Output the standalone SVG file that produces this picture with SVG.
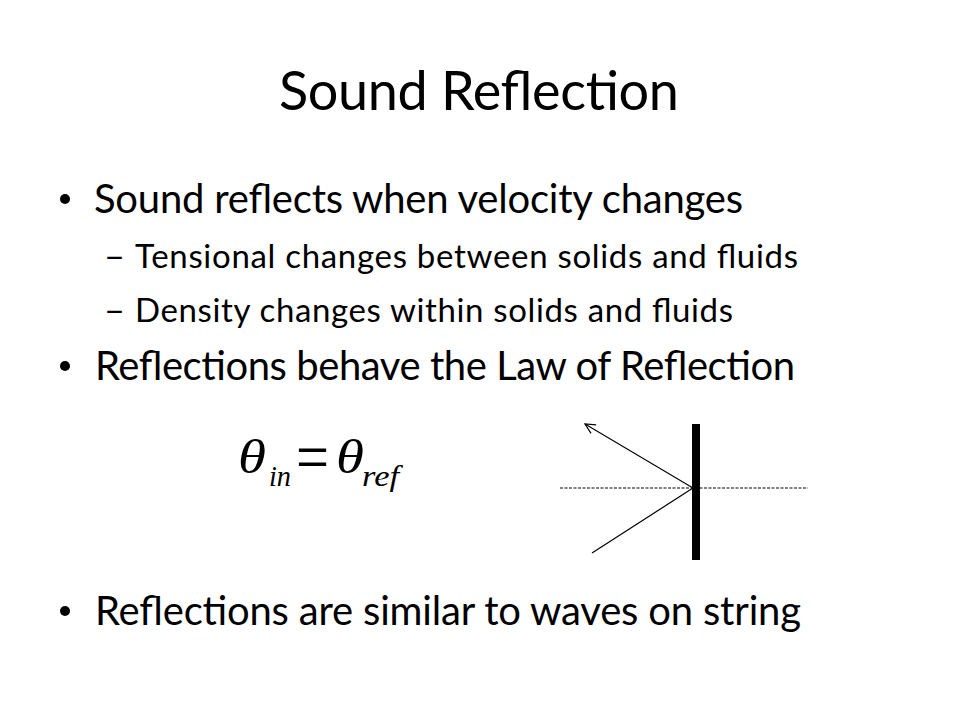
<svg xmlns="http://www.w3.org/2000/svg" width="960" height="720" viewBox="0 0 960 720">
<style>
.t{font-family:Lato,"Open Sans","Liberation Sans",sans-serif;fill:#000}
.b{font-size:40px}
.s{font-size:33px}
.m{font-family:"Liberation Serif","DejaVu Serif",serif;fill:#000}
.ln{stroke:#000;stroke-width:1.2;fill:none}
</style>
<defs>
<marker id="open" viewBox="0 0 12 12" refX="11" refY="6" markerWidth="12" markerHeight="12" markerUnits="userSpaceOnUse" orient="auto">
<path d="M1,1 L11,6 L1,11" fill="none" stroke="#000" stroke-width="1.2"/>
</marker>
</defs>
<rect width="960" height="720" fill="#fff"/>
<g id="title">
<text class="t" x="279" y="110" font-size="54" textLength="400" lengthAdjust="spacing">Sound Reflection</text>
</g>
<g id="bullets">
<circle cx="65" cy="199" r="5" fill="#000"/>
<text class="t b" x="94" y="213" textLength="649" lengthAdjust="spacing">Sound reflects when velocity changes</text>
<text class="t s" x="104" y="268" textLength="21" lengthAdjust="spacingAndGlyphs">–</text>
<text class="t s" x="135" y="268" textLength="663" lengthAdjust="spacing">Tensional changes between solids and fluids</text>
<text class="t s" x="104" y="322" textLength="21" lengthAdjust="spacingAndGlyphs">–</text>
<text class="t s" x="135" y="322" textLength="598" lengthAdjust="spacing">Density changes within solids and fluids</text>
<circle cx="65" cy="366" r="5" fill="#000"/>
<text class="t b" x="95" y="380" textLength="700" lengthAdjust="spacing">Reflections behave the Law of Reflection</text>
<circle cx="65" cy="611" r="5" fill="#000"/>
<text class="t b" x="95" y="625" textLength="706" lengthAdjust="spacing">Reflections are similar to waves on string</text>
</g>
<g id="formula">
<text class="m" x="238" y="473" font-size="48" font-style="italic" textLength="28" lengthAdjust="spacingAndGlyphs">θ</text>
<text class="m" x="269" y="486" font-size="30" font-style="italic" textLength="22" lengthAdjust="spacingAndGlyphs">in</text>
<text class="m" x="296" y="481" font-size="70" textLength="33" lengthAdjust="spacingAndGlyphs">=</text>
<text class="m" x="336" y="473" font-size="48" font-style="italic" textLength="28" lengthAdjust="spacingAndGlyphs">θ</text>
<text class="m" x="362" y="486" font-size="30" font-style="italic" textLength="37" lengthAdjust="spacingAndGlyphs">ref</text>
</g>
<g id="mirror">
<rect x="692" y="424" width="8" height="136" fill="#000"/>
</g>
<g id="connectors">
<line class="ln" x1="560" y1="488" x2="808" y2="488" stroke-dasharray="3 1.5" stroke-width="1"/>
<line class="ln" x1="592" y1="553" x2="693" y2="488"/>
<line class="ln" x1="693" y1="488" x2="585" y2="424" marker-end="url(#open)"/>
</g>
</svg>
